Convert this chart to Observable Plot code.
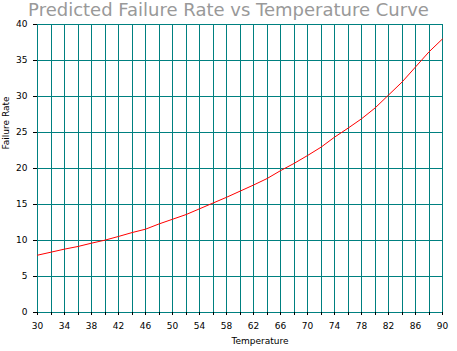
<!DOCTYPE html>
<html>
<head>
<meta charset="utf-8">
<script src="https://cdn.jsdelivr.net/npm/d3@7"></script>
<script src="https://cdn.jsdelivr.net/npm/@observablehq/plot@0.6"></script>
<style>
  body { margin: 0; background: #fff; }
  #title { width: 457px; height: 20px; font-family: "DejaVu Sans", sans-serif; font-size: 18px; line-height: 20px; color: #999999; text-align: center; white-space: nowrap; }
</style>
</head>
<body>
<div id="title">Predicted Failure Rate vs Temperature Curve</div>
<div id="chart"></div>
<script>
const temperatures = [30,32,34,36,38,40,42,44,46,48,50,52,54,56,58,60,62,64,66,68,70,72,74,76,78,80,82,84,86,88,90];
const failureRates = [7.96,8.38,8.8,9.17,9.63,10.05,10.56,11.1,11.57,12.3,12.95,13.6,14.4,15.2,16.0,16.85,17.7,18.6,19.7,20.7,21.8,22.96,24.35,25.6,26.9,28.4,30.2,32.0,34.1,36.2,38.0];
const xGrid = d3.range(30, 91, 2);
const xLabels = d3.range(30, 91, 4);
const yTicks = [0,5,10,15,20,25,30,35,40];
const xTitle = "Temperature";
const yTitle = "Failure Rate";

const data = temperatures.map((t, i) => ({t, r: failureRates[i]}));
const teal = "#008080";

const chart = Plot.plot({
  width: 457,
  height: 331,
  marginLeft: 37,
  marginRight: 15,
  marginTop: 4,
  marginBottom: 39,
  style: {fontFamily: "DejaVu Sans, sans-serif", fontSize: "9px", color: "#000", background: "#fff"},
  x: {domain: [30, 90]},
  y: {domain: [0, 40]},
  marks: [
    Plot.ruleX(xGrid, {x: d => d, stroke: teal, strokeWidth: 1, shapeRendering: "crispEdges"}),
    Plot.ruleY(yTicks, {y: d => d, stroke: teal, strokeWidth: 1, shapeRendering: "crispEdges"}),
    Plot.axisX({ticks: xGrid, tickSize: 3, tickPadding: 7, tickFormat: d => (xLabels.includes(d) ? String(d) : ""), label: null, shapeRendering: "crispEdges"}),
    Plot.axisY({ticks: yTicks, tickSize: 4, tickPadding: 6, tickFormat: d => String(d), label: null, shapeRendering: "crispEdges"}),
    Plot.line(data, {x: "t", y: "r", stroke: "#ff0000", strokeWidth: 1}),
    Plot.text([xTitle], {text: d => d, frameAnchor: "bottom", dx: 20, dy: 31, fontSize: 9, letterSpacing: 0.3}),
    Plot.text([yTitle], {text: d => d, frameAnchor: "left", rotate: -90, dx: -31, dy: -19, fontSize: 9})
  ]
});
document.getElementById("chart").appendChild(chart);
</script>
</body>
</html>
